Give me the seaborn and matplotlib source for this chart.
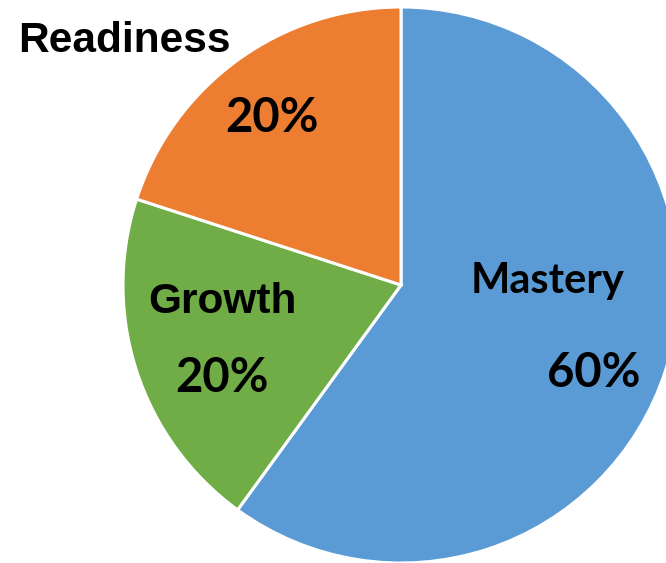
import matplotlib
matplotlib.use("Agg")
import matplotlib.pyplot as plt
import seaborn as sns

# Share of each category
categories = ["Mastery", "Growth", "Readiness"]
shares = [60, 20, 20]
slice_colors = ["#5B9BD5", "#70AD47", "#ED7D31"]

W, H = 666, 563
sns.set_theme(style="white")

fig = plt.figure(figsize=(W / 100, H / 100), dpi=100)
ax = fig.add_axes([0, 0, 1, 1])

cx, cy, r = 401, H - 285, 278
ax.pie(shares, colors=slice_colors, startangle=90, counterclock=False,
       center=(cx, cy), radius=r,
       wedgeprops=dict(edgecolor="white", linewidth=2.2))
ax.set_xlim(0, W)
ax.set_ylim(0, H)
ax.set_aspect("equal")
ax.axis("off")

name_font = dict(family="Liberation Sans", weight="bold", size=30.5, color="black")
calibri_like = dict(family="Lato", weight="bold", color="black")

def px(y):
    return H - y

# Category names and percentages
ax.text(124, px(52), categories[2], ha="center", va="baseline", **name_font)
ax.text(272, px(132), f"{shares[2]}%", ha="center", va="baseline", size=34, **calibri_like)
ax.text(222, px(313), categories[1], ha="center", va="baseline", **name_font)
ax.text(222, px(392), f"{shares[1]}%", ha="center", va="baseline", size=34, **calibri_like)
ax.text(548, px(293), categories[0], ha="center", va="baseline", size=30, **calibri_like)
ax.text(594, px(387), f"{shares[0]}%", ha="center", va="baseline", size=34, **calibri_like)

fig.savefig("out.png", dpi=100, facecolor="white")
